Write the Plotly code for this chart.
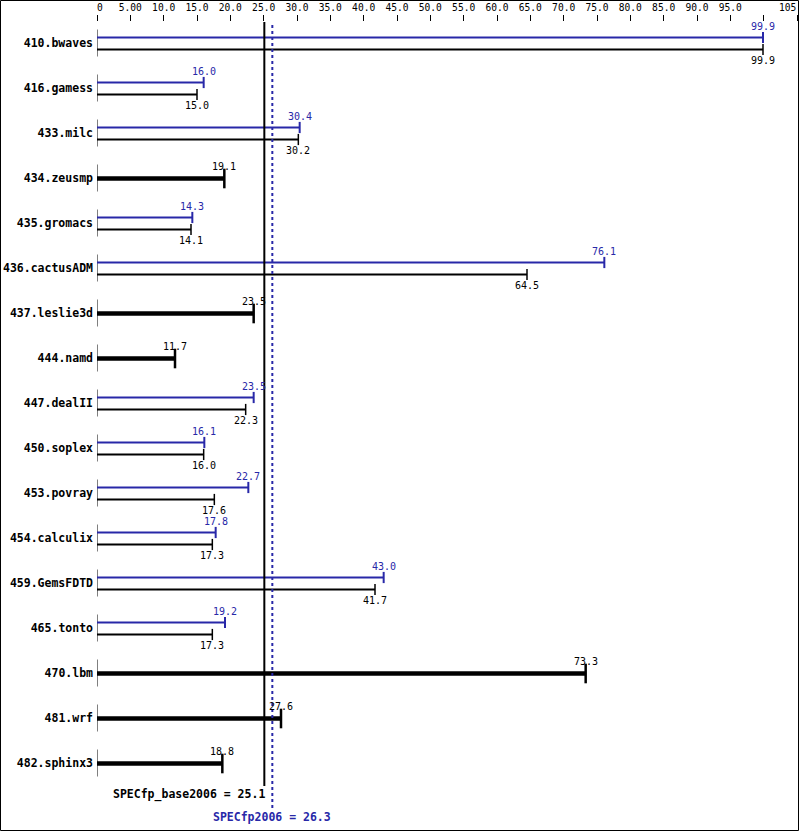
import plotly.graph_objects as go

# ---------------- data ----------------
benchmarks = ["410.bwaves", "416.gamess", "433.milc", "434.zeusmp", "435.gromacs",
              "436.cactusADM", "437.leslie3d", "444.namd", "447.dealII", "450.soplex",
              "453.povray", "454.calculix", "459.GemsFDTD", "465.tonto", "470.lbm",
              "481.wrf", "482.sphinx3"]
base_scores = [99.9, 15.0, 30.2, 19.1, 14.1, 64.5, 23.5, 11.7, 22.3, 16.0,
               17.6, 17.3, 41.7, 17.3, 73.3, 27.6, 18.8]
peak_scores = [99.9, 16.0, 30.4, None, 14.3, 76.1, None, None, 23.5, 16.1,
               22.7, 17.8, 43.0, 19.2, None, None, None]
tick_values = list(range(0, 110, 5))
tick_labels = ["0", "5.00", "10.0", "15.0", "20.0", "25.0", "30.0", "35.0", "40.0",
               "45.0", "50.0", "55.0", "60.0", "65.0", "70.0", "75.0", "80.0", "85.0",
               "90.0", "95.0", "", "105"]
spec_base = 25.1
spec_peak = 26.3
base_label = "SPECfp_base2006 = 25.1"
peak_label = "SPECfp2006 = 26.3"

# ---------------- geometry / style ----------------
W, H = 799, 831
ML, MR, MT, MB = 97, 1, 22, 0
X_MAX = 105.15
ROW_PX, FIRST_ROW_PX = 45, 43
PX = 1.0 / ROW_PX
y_top = -(FIRST_ROW_PX - MT) / ROW_PX
y_bot = y_top + (H - MT - MB) / ROW_PX
BLUE = "#2828a8"
BLACK = "#000000"
MONO = "DejaVu Sans Mono"
NB = "\u00a0"

def paper_x(px):
    return (px - ML) / (W - ML - MR)

def paper_y(py):
    return (H - MB - py) / (H - MT - MB)

# the last tick label sits flush right against the frame (drawn as annotation),
# the first one slightly right of its tick, as in the reference
shown_ticks = list(tick_labels)
shown_ticks[0] = NB + shown_ticks[0]
last_label = shown_ticks[-1]
shown_ticks[-1] = ""

fig = go.Figure()

# per-row axis segments
ax_x, ax_y = [], []
for i in range(len(benchmarks)):
    ax_x += [0, 0, None]
    ax_y += [i - 13.5 * PX, i + 13.5 * PX, None]
fig.add_trace(go.Scatter(x=ax_x, y=ax_y, mode="lines",
                         line=dict(color=BLACK, width=1), hoverinfo="skip"))

pk_x, pk_y, bs_x, bs_y, th_x, th_y = [], [], [], [], [], []
pk_cx, pk_cy, bs_cx, bs_cy, th_cx, th_cy = [], [], [], [], [], []
annotations = []
for i, (b, p) in enumerate(zip(base_scores, peak_scores)):
    if p is not None:
        yp = i - 5.5 * PX
        yb = i + 6.5 * PX
        pk_x += [0, p, None]; pk_y += [yp, yp, None]
        bs_x += [0, b, None]; bs_y += [yb, yb, None]
        pk_cx.append(p); pk_cy.append(yp)
        bs_cx.append(b); bs_cy.append(yb)
        annotations.append(dict(x=p, y=i - 16.5 * PX, xref="x", yref="y",
                                text=f"{p:.1f}", showarrow=False,
                                xanchor="center", yanchor="middle",
                                font=dict(family=MONO, size=10, color=BLUE)))
        annotations.append(dict(x=b, y=i + 17 * PX, xref="x", yref="y",
                                text=f"{b:.1f}", showarrow=False,
                                xanchor="center", yanchor="middle",
                                font=dict(family=MONO, size=10, color=BLACK)))
    else:
        yt = i + 0.5 * PX
        th_x += [0, b, None]; th_y += [yt, yt, None]
        th_cx.append(b); th_cy.append(yt)
        annotations.append(dict(x=b, y=i - 11.5 * PX, xref="x", yref="y",
                                text=f"{b:.1f}", showarrow=False,
                                xanchor="center", yanchor="middle",
                                font=dict(family=MONO, size=10, color=BLACK)))

fig.add_trace(go.Scatter(x=pk_x, y=pk_y, mode="lines",
                         line=dict(color=BLUE, width=2), hoverinfo="skip"))
fig.add_trace(go.Scatter(x=bs_x, y=bs_y, mode="lines",
                         line=dict(color=BLACK, width=2), hoverinfo="skip"))
fig.add_trace(go.Scatter(x=th_x, y=th_y, mode="lines",
                         line=dict(color=BLACK, width=4.5), hoverinfo="skip"))
fig.add_trace(go.Scatter(x=pk_cx, y=pk_cy, mode="markers", hoverinfo="skip",
                         marker=dict(symbol="line-ns", size=8,
                                     line=dict(color=BLUE, width=2))))
fig.add_trace(go.Scatter(x=bs_cx, y=bs_cy, mode="markers", hoverinfo="skip",
                         marker=dict(symbol="line-ns", size=8,
                                     line=dict(color=BLACK, width=1.5))))
fig.add_trace(go.Scatter(x=th_cx, y=th_cy, mode="markers", hoverinfo="skip",
                         marker=dict(symbol="line-ns", size=14,
                                     line=dict(color=BLACK, width=2.5))))

# reference lines
shapes = [
    dict(type="line", xref="x", yref="paper", x0=spec_base, x1=spec_base,
         y0=paper_y(786), y1=1, line=dict(color=BLACK, width=2)),
    dict(type="line", xref="x", yref="paper", x0=spec_peak, x1=spec_peak,
         y0=paper_y(808), y1=1, line=dict(color=BLUE, width=2, dash="dot")),
    dict(type="rect", xref="paper", yref="paper",
         x0=paper_x(0.5), x1=paper_x(798.5), y0=paper_y(830.5), y1=paper_y(0.5),
         line=dict(color=BLACK, width=1), fillcolor="rgba(0,0,0,0)"),
]

annotations.append(dict(x=tick_values[-1], y=paper_y(8), xref="x", yref="paper",
                        text=last_label, showarrow=False,
                        xanchor="right", yanchor="middle", xshift=1,
                        font=dict(family=MONO, size=9.6, color=BLACK)))
annotations.append(dict(x=spec_base, y=paper_y(794), xref="x", yref="paper",
                        text=f"<b>{base_label}</b>", showarrow=False,
                        xanchor="right", yanchor="middle", xshift=3,
                        font=dict(family=MONO, size=11.5, color=BLACK)))
annotations.append(dict(x=spec_peak, y=paper_y(817), xref="x", yref="paper",
                        text=f"<b>{peak_label}</b>", showarrow=False,
                        xanchor="center", yanchor="middle",
                        font=dict(family=MONO, size=11.5, color=BLUE)))

fig.update_layout(
    width=W, height=H,
    margin=dict(l=ML, r=MR, t=MT, b=MB, pad=0, autoexpand=False),
    paper_bgcolor="white", plot_bgcolor="white",
    showlegend=False,
    shapes=shapes,
    annotations=annotations,
    xaxis=dict(side="top", range=[0, X_MAX], tickmode="array",
               tickvals=tick_values, ticktext=shown_ticks,
               ticks="outside", ticklen=6, tickwidth=1, tickcolor=BLACK,
               showgrid=False, zeroline=False, showline=False, automargin=False,
               tickfont=dict(family=MONO, size=9.6, color=BLACK)),
    yaxis=dict(range=[y_bot, y_top], tickmode="array",
               tickvals=list(range(len(benchmarks))),
               ticktext=[f"<b>{n}</b>" for n in benchmarks],
               ticks="", showgrid=False, zeroline=False, showline=False,
               automargin=False, ticklabelstandoff=3,
               tickfont=dict(family=MONO, size=11.5, color=BLACK)),
)

fig.write_html(
    "out.html",
    config={"displayModeBar": False},
    post_script="document.body.style.margin='0';document.body.style.padding='0';"
                "document.body.style.overflow='hidden';",
)
